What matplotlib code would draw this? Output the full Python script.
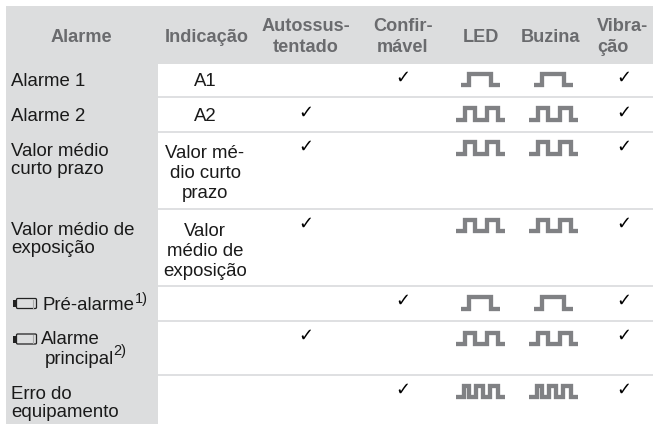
import matplotlib
matplotlib.use("Agg")
import matplotlib.pyplot as plt
from matplotlib.patches import Rectangle, FancyBboxPatch

# ---- data ----
headers = ["Alarme", "Indicação", "Autossus-\ntentado", "Confir-\nmável", "LED", "Buzina", "Vibra-\nção"]
alarms = ["Alarme 1", "Alarme 2", "Valor médio\ncurto prazo", "Valor médio de\nexposição",
          "Pré-alarme", "Alarme\nprincipal", "Erro do\nequipamento"]
indications = ["A1", "A2", "Valor mé-\ndio curto\nprazo", "Valor\nmédio de\nexposição", "", "", ""]
self_sustained = [0, 1, 1, 1, 0, 1, 0]
confirmable = [1, 0, 0, 0, 1, 0, 1]
led_pulses = [1, 2, 2, 2, 1, 2, 3]
horn_pulses = [1, 2, 2, 2, 1, 2, 3]
vibration = [1, 1, 1, 1, 1, 1, 1]

# ---- layout ----
W, H = 653, 424
row_bottoms = [96, 131, 208, 285, 320, 374, 424]
col_x = {"ind": 205, "self": 306, "conf": 403, "led": 480.5, "horn": 553.5, "vib": 624}
BG = "#dcddde"
HEAD = "#6a6b6e"
TXT = "#1a1a1a"
FS = 13.1
FB = 13.4
LINE = "#808184"

plt.rcParams["font.family"] = ["Liberation Sans", "DejaVu Sans"]
fig = plt.figure(figsize=(W / 100, H / 100), dpi=100)
ax = fig.add_axes([0, 0, 1, 1])
ax.set_xlim(0, W)
ax.set_ylim(H, 0)
ax.axis("off")

ax.add_patch(Rectangle((6, 6), W - 6, 58, fc=BG, ec="none"))
ax.add_patch(Rectangle((6, 6), 152, H - 6, fc=BG, ec="none"))
for b in row_bottoms[:-1]:
    ax.add_patch(Rectangle((158, b), W - 158, 2.4, fc="#dfe0e2", ec="none"))

hdr_x = [81, 207, 306, 403, 480.5, 551, None]
for h, x in zip(headers[:-1], hdr_x):
    ax.text(x, 37, h, ha="center", va="center", fontsize=FS, fontweight="bold",
            color=HEAD, linespacing=1.33)
ax.text(597, 37, headers[-1], ha="left", va="center", fontsize=FS, fontweight="bold",
        color=HEAD, linespacing=1.33)

left_y = [81.5, 116.5, 160.5, 239.5, 306, 348, 403.5]
left_x = [11, 11, 11, 11, 43, 41, 11]
for a, x, y in zip(alarms, left_x, left_y):
    if a == "Alarme\nprincipal":
        first, second = a.split("\n")
        ax.text(x, 340, first, ha="left", va="center", fontsize=FB, color=TXT)
        ax.text(45, 360, second, ha="left", va="center", fontsize=FB, color=TXT)
    else:
        ax.text(x, y, a, ha="left", va="center", fontsize=FB, color=TXT, linespacing=1.13)
ax.text(134.5, 299, "1)", fontsize=10.5, ha="left", va="center", color=TXT)
ax.text(113, 351.5, "2)", fontsize=10.5, ha="left", va="center", color=TXT)

ind_y = [81.5, 116.5, 173.5, 251.5]
for t, y in zip(indications, ind_y):
    ax.text(col_x["ind"], y, t, ha="center", va="center", fontsize=FB, color=TXT, linespacing=1.2)


def battery(y):
    ax.add_patch(FancyBboxPatch((16.5, y), 20, 10, boxstyle="round,pad=0,rounding_size=1.2",
                                fc="none", ec="#222222", lw=0.9))
    ax.add_patch(Rectangle((12.5, y + 1.5), 4, 7, fc="#222222", ec="none"))
    ax.plot([33, 33], [y + 1, y + 9], color="#aaaaaa", lw=0.8)


battery(298.5)
battery(334)


def check(x, y):
    ax.text(x, y, "\u2713", ha="center", va="center", fontsize=13,
            family="DejaVu Sans", color="#000000")


check_y = [77.5, 113, 147, 224, 301, 336, 390]
for flags, key in [(self_sustained, "self"), (confirmable, "conf"), (vibration, "vib")]:
    for f, y in zip(flags, check_y):
        if f:
            check(col_x[key], y)

pulse_bottom = [85, 119.5, 153.5, 231, 308.5, 344, 397]


def pulse(cx, yb, n):
    top = yb - 11.5
    if n == 1:
        xs = [-19.5, -11.5, -11.5, 10.5, 10.5, 19.5]
        ys = [0, 0, 1, 1, 0, 0]
    elif n == 2:
        xs = [-24.5, -15.5, -15.5, -5.5, -5.5, 6.5, 6.5, 17.5, 17.5, 24.5]
        ys = [0, 0, 1, 1, 0, 0, 1, 1, 0, 0]
    else:
        xs = [-24.5, -17, -17, -12, -12, -4.5, -4.5, 2.5, 2.5, 9.5, 9.5, 17.5, 17.5, 24.5]
        ys = [0, 0, 1, 1, 0, 0, 1, 1, 0, 0, 1, 1, 0, 0]
    ax.plot([cx + v for v in xs], [yb - v * (yb - top) for v in ys], color=LINE, lw=3.1,
            solid_joinstyle="miter", solid_capstyle="butt")


for n, m, yb in zip(led_pulses, horn_pulses, pulse_bottom):
    pulse(col_x["led"], yb, n)
    pulse(col_x["horn"], yb, m)

fig.savefig("out.png", dpi=100, facecolor="white")
